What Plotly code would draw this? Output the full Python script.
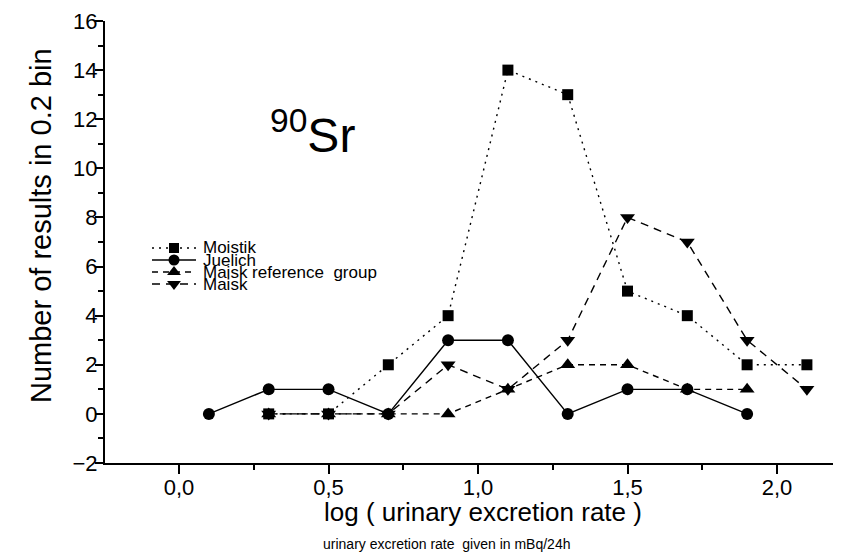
import plotly.graph_objects as go

# ---------------- data ----------------
moistik_x = [0.3, 0.5, 0.7, 0.9, 1.1, 1.3, 1.5, 1.7, 1.9, 2.1]
moistik_y = [0, 0, 2, 4, 14, 13, 5, 4, 2, 2]

juelich_x = [0.1, 0.3, 0.5, 0.7, 0.9, 1.1, 1.3, 1.5, 1.7, 1.9]
juelich_y = [0, 1, 1, 0, 3, 3, 0, 1, 1, 0]

maisk_ref_x = [0.3, 0.5, 0.7, 0.9, 1.1, 1.3, 1.5, 1.7, 1.9]
maisk_ref_y = [0, 0, 0, 0, 1, 2, 2, 1, 1]

maisk_x = [0.3, 0.5, 0.7, 0.9, 1.1, 1.3, 1.5, 1.7, 1.9, 2.1]
maisk_y = [0, 0, 0, 2, 1, 3, 8, 7, 3, 1]

series_names = ["Moistik", "Juelich", "Maisk reference  group", "Maisk"]

x_tickvals = [0.0, 0.5, 1.0, 1.5, 2.0]
x_ticktext = ["0,0", "0,5", "1,0", "1,5", "2,0"]
y_tickvals = [-2, 0, 2, 4, 6, 8, 10, 12, 14, 16]

# ---------------- layout geometry ----------------
OFF = 8                      # page body margin of the html page
W, H = 841 - OFF, 559 - OFF
ML, MR, MT = 105 - OFF, 0, 21 - OFF
MB = H - (463 - OFF)
FONT = "Liberation Sans, Arial, sans-serif"


def px_x(p):
    """screen pixel x -> paper"""
    return (p - OFF - ML) / (W - ML - MR)


def px_y(p):
    """screen pixel y -> paper"""
    return (H - MB - (p - OFF)) / (H - MB - MT)


styles = [
    dict(dash="2px,5px", symbol="square", size=11),
    dict(dash="solid", symbol="circle", size=12),
    dict(dash="6px,5px", symbol="triangle-up", size=13),
    dict(dash="8px,6px", symbol="triangle-down", size=13),
]
data = [(moistik_x, moistik_y), (juelich_x, juelich_y),
        (maisk_ref_x, maisk_ref_y), (maisk_x, maisk_y)]

fig = go.Figure()
for (xs, ys), st, name in zip(data, styles, series_names):
    fig.add_trace(go.Scatter(
        x=xs, y=ys, mode="lines+markers", name=name, showlegend=False,
        line=dict(color="black", width=1.4, dash=st["dash"]),
        marker=dict(symbol=st["symbol"], size=st["size"], color="black",
                    line=dict(width=0)),
    ))

# ---------------- custom legend (overlay axes in screen pixel space) ----------------
leg_rows = [248, 260, 272, 284]
for st, name, ry in zip(styles, series_names, leg_rows):
    fig.add_trace(go.Scatter(
        x=[152, 196], y=[ry, ry], xaxis="x2", yaxis="y2",
        mode="lines", showlegend=False, hoverinfo="skip",
        line=dict(color="black", width=1.4, dash=st["dash"]),
    ))
    fig.add_trace(go.Scatter(
        x=[174], y=[ry], xaxis="x2", yaxis="y2",
        mode="markers", showlegend=False, hoverinfo="skip",
        marker=dict(symbol=st["symbol"], size=st["size"] - 1, color="black",
                    line=dict(width=0)),
    ))
    fig.add_annotation(x=px_x(201), y=px_y(ry), xref="paper", yref="paper",
                       text=name, showarrow=False, xanchor="left", yanchor="middle",
                       font=dict(family=FONT, size=17, color="black"))

# ---------------- texts ----------------
fig.add_annotation(x=px_x(268), y=px_y(132), xref="paper", yref="paper",
                   text="<sup>90</sup>Sr", showarrow=False, xanchor="left", yanchor="middle",
                   font=dict(family=FONT, size=48, color="black"))
fig.add_annotation(x=px_x(483), y=px_y(512), xref="paper", yref="paper",
                   text="log ( urinary excretion rate )", showarrow=False,
                   xanchor="center", yanchor="middle",
                   font=dict(family=FONT, size=26, color="black"))
fig.add_annotation(x=px_x(446), y=px_y(544), xref="paper", yref="paper",
                   text="urinary excretion rate  given in mBq/24h", showarrow=False,
                   xanchor="center", yanchor="middle",
                   font=dict(family=FONT, size=14, color="black"))
fig.add_annotation(x=px_x(41), y=px_y(226), xref="paper", yref="paper",
                   text="Number of results in 0.2 bin", showarrow=False, textangle=-90,
                   xanchor="center", yanchor="middle",
                   font=dict(family=FONT, size=29, color="black"))

fig.update_layout(
    width=W, height=H,
    margin=dict(l=ML, r=MR, t=MT, b=MB, autoexpand=False),
    paper_bgcolor="white", plot_bgcolor="white",
    font=dict(family=FONT, color="black"),
    xaxis=dict(range=[-0.2475, 2.214], showgrid=False, zeroline=False,
               showline=True, linecolor="black", linewidth=2,
               ticks="outside", ticklen=9, tickwidth=1.5, tickcolor="black",
               tickvals=x_tickvals, ticktext=x_ticktext, ticklabelstandoff=-5,
               ticklabeloverflow="allow",
               tickfont=dict(family=FONT, size=22, color="black"),
               minor=dict(dtick=0.25, tick0=0, ticks="outside", ticklen=5,
                          tickwidth=1.5, tickcolor="black", showgrid=False)),
    yaxis=dict(range=[-2, 16], showgrid=False, zeroline=False,
               showline=True, linecolor="black", linewidth=2,
               ticks="outside", ticklen=8, tickwidth=1.5, tickcolor="black",
               tickvals=y_tickvals, ticklabelstandoff=-7,
               ticklabeloverflow="allow",
               tickfont=dict(family=FONT, size=22, color="black"),
               minor=dict(dtick=1, tick0=0, ticks="outside", ticklen=5,
                          tickwidth=1.5, tickcolor="black", showgrid=False)),
    xaxis2=dict(domain=[0, 1], range=[ML + OFF, W - MR + OFF], overlaying="x",
                visible=False, fixedrange=True),
    yaxis2=dict(domain=[0, 1], range=[H - MB + OFF, MT + OFF], overlaying="y",
                visible=False, fixedrange=True),
)

fig.write_html("out.html")
